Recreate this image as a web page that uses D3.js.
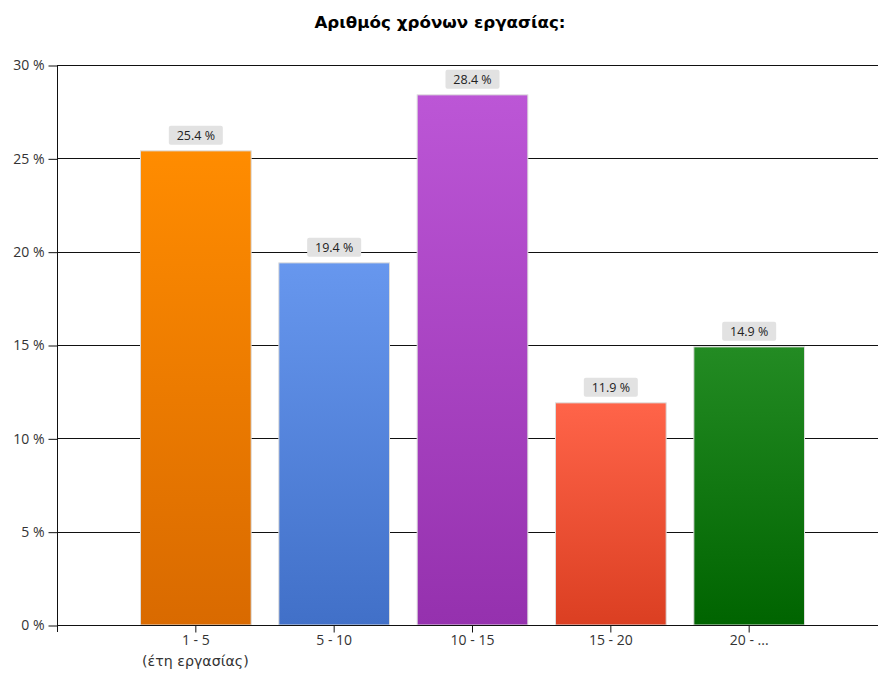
<!DOCTYPE html>
<html>
<head>
<meta charset="utf-8">
<script src="https://cdn.jsdelivr.net/npm/d3@7"></script>
<style>
  html, body { margin: 0; padding: 0; background: #fff; }
  svg { display: block; }
</style>
</head>
<body>
<svg id="chart" width="878" height="673"></svg>
<script>
// Years of work: share of respondents per range
const categories = ["1 - 5", "5 - 10", "10 - 15", "15 - 20", "20 - ..."];
const values = [25.4, 19.4, 28.4, 11.9, 14.9];
const yTicks = [0, 5, 10, 15, 20, 25, 30];
const barColors = [
  ["#ff8c00", "#d96a00"],
  ["#6797ee", "#4170c8"],
  ["#bc56d6", "#9531ae"],
  ["#ff6449", "#db3f22"],
  ["#238b23", "#006400"]
];
const title = "Αριθμός χρόνων εργασίας:";
const xSubLabel = "(έτη εργασίας)";

const FONT = "Open Sans, Liberation Sans, Arial, sans-serif";
const WIDE_FONT = "DejaVu Sans, Open Sans, sans-serif";
const svg = d3.select("#chart");
const margin = { left: 57, top: 65, bottom: 48 };
const W = 878, H = 673;
const plotRight = 887;

// Five bars laid out on six equal steps, centers one step in from the axis
const step = (plotRight - margin.left) / 6;
const x = d3.scaleBand()
  .domain(categories)
  .range([margin.left + step / 2, plotRight - step / 2])
  .paddingInner(0.2)
  .paddingOuter(0.1);
const y = d3.scaleLinear().domain([0, 30]).range([H - margin.bottom, margin.top]);

// Vertical gradients for the bars
const defs = svg.append("defs");
barColors.forEach((c, i) => {
  const g = defs.append("linearGradient")
    .attr("id", "grad" + i).attr("x1", 0).attr("y1", 0).attr("x2", 0).attr("y2", 1);
  g.append("stop").attr("offset", "0%").attr("stop-color", c[0]);
  g.append("stop").attr("offset", "100%").attr("stop-color", c[1]);
});

// Title
svg.append("text")
  .attr("x", 440).attr("y", 28)
  .attr("text-anchor", "middle")
  .attr("font-family", WIDE_FONT)
  .attr("font-weight", "bold")
  .attr("font-size", 16.7)
  .attr("fill", "#000")
  .text(title);

// Horizontal gridlines
svg.append("g")
  .selectAll("line")
  .data(yTicks)
  .join("line")
  .attr("x1", margin.left).attr("x2", W)
  .attr("y1", d => Math.round(y(d)) + 0.5).attr("y2", d => Math.round(y(d)) + 0.5)
  .attr("stroke", "#111").attr("stroke-width", 1);

// Y axis
const yAxis = d3.axisLeft(y)
  .tickValues(yTicks)
  .tickSize(9)
  .tickPadding(4)
  .tickFormat(d => d + " %");
const gy = svg.append("g")
  .attr("transform", `translate(${margin.left + 0.5},0.5)`)
  .call(yAxis);
gy.select(".domain").remove();
gy.selectAll(".tick line").attr("stroke", "#111");
gy.selectAll(".tick text")
  .attr("font-family", FONT)
  .attr("font-size", 14).attr("fill", "#333");
svg.append("line")
  .attr("x1", margin.left + 0.5).attr("x2", margin.left + 0.5)
  .attr("y1", margin.top).attr("y2", H - margin.bottom + 7)
  .attr("stroke", "#111");

// Bars
svg.append("g")
  .selectAll("rect")
  .data(values)
  .join("rect")
  .attr("x", (d, i) => x(categories[i]) + 0.5)
  .attr("y", d => y(d))
  .attr("width", x.bandwidth())
  .attr("height", d => y(0) - y(d))
  .attr("fill", (d, i) => `url(#grad${i})`)
  .attr("stroke", "#dcdcdc").attr("stroke-width", 1);

// X axis
const xAxis = d3.axisBottom(x).tickSize(7).tickPadding(3);
const gx = svg.append("g")
  .attr("transform", `translate(0.5,${Math.round(y(0)) + 0.5})`)
  .call(xAxis);
gx.select(".domain").remove();
gx.selectAll(".tick line").attr("stroke", "#111");
gx.selectAll(".tick text")
  .attr("font-family", FONT)
  .attr("font-size", 14).attr("fill", "#333");
svg.append("line")
  .attr("x1", margin.left).attr("x2", W)
  .attr("y1", Math.round(y(0)) + 0.5).attr("y2", Math.round(y(0)) + 0.5)
  .attr("stroke", "#111");
svg.append("text")
  .attr("x", x(categories[0]) + x.bandwidth() / 2)
  .attr("y", Math.round(y(0)) + 41)
  .attr("text-anchor", "middle")
  .attr("font-family", WIDE_FONT)
  .attr("font-size", 14.2).attr("fill", "#333")
  .text(xSubLabel);

// Value labels
const labels = svg.append("g")
  .selectAll("g")
  .data(values)
  .join("g")
  .attr("transform", (d, i) => `translate(${x(categories[i]) + x.bandwidth() / 2 + 0.5},${y(d) - 15})`);
labels.append("rect")
  .attr("x", -27).attr("y", -10).attr("width", 54).attr("height", 19)
  .attr("rx", 2).attr("fill", "#e2e2e2");
labels.append("text")
  .attr("text-anchor", "middle")
  .attr("dy", "0.35em")
  .attr("font-family", FONT)
  .attr("font-size", 12.5).attr("fill", "#222")
  .text(d => d.toFixed(1) + " %");
</script>
</body>
</html>
